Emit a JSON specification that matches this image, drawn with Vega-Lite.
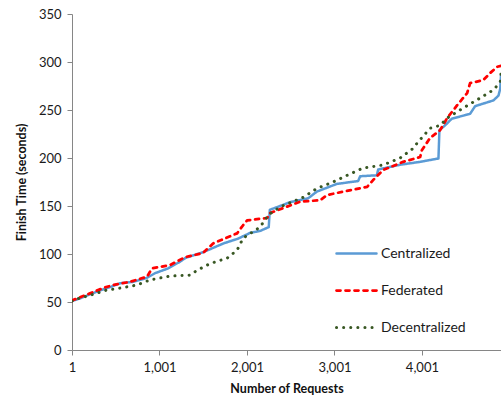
{
  "$schema": "https://vega.github.io/schema/vega-lite/v6.json",
  "autosize": "none",
  "width": 429,
  "height": 336,
  "padding": {"left": 72, "top": 14, "right": 0, "bottom": 55},
  "background": "white",
  "config": {
    "view": {"stroke": null},
    "font": "Lato",
    "axis": {"grid": false, "domainColor": "#868686", "tickColor": "#868686", "labelColor": "#1a1a1a", "titleColor": "#111", "labelFont": "Lato", "titleFont": "Lato", "labelFontSize": 13, "titleFontSize": 12.5, "titleFontWeight": "bold", "labelFontWeight": "normal"}
  },
  "data": {"values": [
    {"s":"Centralized","n":1,"t":51},{"s":"Centralized","n":100,"t":54},{"s":"Centralized","n":207,"t":58},{"s":"Centralized","n":321,"t":62},{"s":"Centralized","n":450,"t":66},{"s":"Centralized","n":550,"t":69.5},{"s":"Centralized","n":700,"t":71},{"s":"Centralized","n":855,"t":75},{"s":"Centralized","n":950,"t":80},{"s":"Centralized","n":1100,"t":85},{"s":"Centralized","n":1236,"t":92},{"s":"Centralized","n":1300,"t":96},{"s":"Centralized","n":1503,"t":102},{"s":"Centralized","n":1732,"t":111},{"s":"Centralized","n":1900,"t":116},{"s":"Centralized","n":2037,"t":122},{"s":"Centralized","n":2151,"t":124},{"s":"Centralized","n":2250,"t":128},{"s":"Centralized","n":2262,"t":146},{"s":"Centralized","n":2380,"t":150},{"s":"Centralized","n":2494,"t":154},{"s":"Centralized","n":2700,"t":158},{"s":"Centralized","n":2800,"t":165},{"s":"Centralized","n":3028,"t":173},{"s":"Centralized","n":3272,"t":176},{"s":"Centralized","n":3295,"t":181},{"s":"Centralized","n":3486,"t":182},{"s":"Centralized","n":3501,"t":188},{"s":"Centralized","n":3753,"t":193},{"s":"Centralized","n":3981,"t":196},{"s":"Centralized","n":4190,"t":199.5},{"s":"Centralized","n":4201,"t":229},{"s":"Centralized","n":4266,"t":234},{"s":"Centralized","n":4343,"t":241},{"s":"Centralized","n":4552,"t":246},{"s":"Centralized","n":4609,"t":254},{"s":"Centralized","n":4819,"t":260},{"s":"Centralized","n":4876,"t":265},{"s":"Centralized","n":4896,"t":272},{"s":"Centralized","n":4905,"t":286},
    {"s":"Federated","n":1,"t":51},{"s":"Federated","n":12,"t":52},{"s":"Federated","n":207,"t":59},{"s":"Federated","n":356,"t":64.5},{"s":"Federated","n":470,"t":67.7},{"s":"Federated","n":665,"t":71},{"s":"Federated","n":859,"t":76.4},{"s":"Federated","n":916,"t":85},{"s":"Federated","n":1122,"t":88.5},{"s":"Federated","n":1293,"t":96.7},{"s":"Federated","n":1499,"t":101},{"s":"Federated","n":1614,"t":111},{"s":"Federated","n":1888,"t":121.5},{"s":"Federated","n":1957,"t":130},{"s":"Federated","n":2003,"t":135},{"s":"Federated","n":2231,"t":137.5},{"s":"Federated","n":2266,"t":142.7},{"s":"Federated","n":2609,"t":154.5},{"s":"Federated","n":2838,"t":156},{"s":"Federated","n":2918,"t":161.5},{"s":"Federated","n":3375,"t":170},{"s":"Federated","n":3443,"t":177},{"s":"Federated","n":3558,"t":187.5},{"s":"Federated","n":3787,"t":196},{"s":"Federated","n":3981,"t":201},{"s":"Federated","n":4000,"t":208},{"s":"Federated","n":4095,"t":221},{"s":"Federated","n":4209,"t":229},{"s":"Federated","n":4289,"t":241.5},{"s":"Federated","n":4404,"t":255},{"s":"Federated","n":4518,"t":267.7},{"s":"Federated","n":4552,"t":278},{"s":"Federated","n":4701,"t":281},{"s":"Federated","n":4781,"t":288.5},{"s":"Federated","n":4861,"t":295},{"s":"Federated","n":4905,"t":296},
    {"s":"Decentralized","n":1,"t":51},{"s":"Decentralized","n":12,"t":52},{"s":"Decentralized","n":207,"t":57},{"s":"Decentralized","n":401,"t":62.5},{"s":"Decentralized","n":550,"t":64.5},{"s":"Decentralized","n":744,"t":67.7},{"s":"Decentralized","n":893,"t":73},{"s":"Decentralized","n":1122,"t":77},{"s":"Decentralized","n":1351,"t":78},{"s":"Decentralized","n":1431,"t":83},{"s":"Decentralized","n":1579,"t":90},{"s":"Decentralized","n":1774,"t":95.6},{"s":"Decentralized","n":1888,"t":104},{"s":"Decentralized","n":1957,"t":116.5},{"s":"Decentralized","n":2151,"t":128},{"s":"Decentralized","n":2243,"t":140.5},{"s":"Decentralized","n":2380,"t":149},{"s":"Decentralized","n":2643,"t":159},{"s":"Decentralized","n":2803,"t":168.4},{"s":"Decentralized","n":2986,"t":175},{"s":"Decentralized","n":3146,"t":182},{"s":"Decentralized","n":3329,"t":189.6},{"s":"Decentralized","n":3558,"t":192.7},{"s":"Decentralized","n":3753,"t":200},{"s":"Decentralized","n":3901,"t":210},{"s":"Decentralized","n":3947,"t":215.6},{"s":"Decentralized","n":4095,"t":231},{"s":"Decentralized","n":4209,"t":234},{"s":"Decentralized","n":4289,"t":241.5},{"s":"Decentralized","n":4472,"t":252},{"s":"Decentralized","n":4667,"t":262.5},{"s":"Decentralized","n":4819,"t":271},{"s":"Decentralized","n":4896,"t":279},{"s":"Decentralized","n":4905,"t":288}
  ]},
  "mark": {"type": "line", "strokeCap": "round", "strokeJoin": "round", "clip": true},
  "encoding": {
    "x": {"field": "n", "type": "quantitative", "scale": {"domain": [1, 4905], "nice": false, "zero": false},
      "axis": {"values": [1, 1001, 2001, 3001, 4001], "format": ",.0f", "title": "Number of Requests", "tickSize": 5, "labelPadding": 6, "titlePadding": 8, "labelFlush": false}},
    "y": {"field": "t", "type": "quantitative", "scale": {"domain": [0, 350], "nice": false},
      "axis": {"values": [0, 50, 100, 150, 200, 250, 300, 350], "title": "Finish Time (seconds)", "tickSize": 5, "labelPadding": 6, "titlePadding": 10}},
    "color": {"field": "s", "type": "nominal", "sort": ["Centralized", "Federated", "Decentralized"],
      "scale": {"domain": ["Centralized", "Federated", "Decentralized"], "range": ["#5B9BD5", "#FF0000", "#385723"]},
      "legend": {"title": null, "orient": "none", "legendX": 263, "legendY": 218, "padding": 0, "symbolType": "stroke", "symbolSize": 1600, "labelFontSize": 14, "labelFont": "Lato", "labelColor": "#1a1a1a", "rowPadding": 8, "labelOffset": 3,
        "encode": {"symbols": {"update": {"strokeCap": {"value": "round"}}}}}},
    "strokeDash": {"field": "s", "type": "nominal", "sort": ["Centralized", "Federated", "Decentralized"],
      "scale": {"domain": ["Centralized", "Federated", "Decentralized"], "range": [[1, 0], [4, 5], [0.1, 7]]}},
    "strokeWidth": {"field": "s", "type": "nominal", "sort": ["Centralized", "Federated", "Decentralized"],
      "scale": {"domain": ["Centralized", "Federated", "Decentralized"], "range": [2.5, 3, 4.5]}}
  }
}
